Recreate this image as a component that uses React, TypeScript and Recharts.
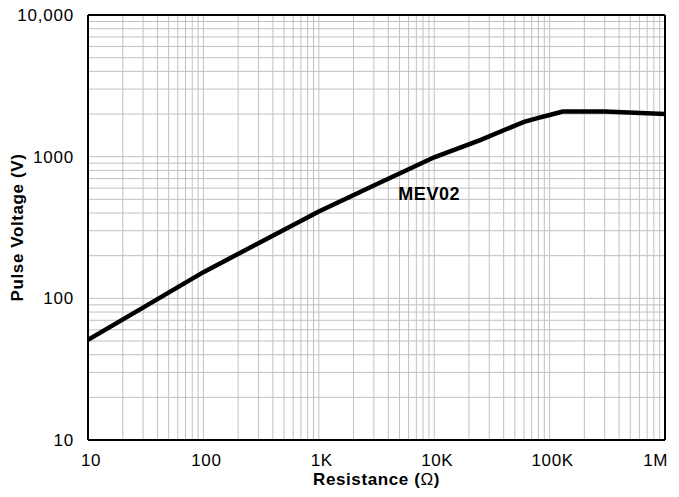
import React from 'react';
import {
  LineChart,
  Line,
  XAxis,
  YAxis,
  CartesianGrid,
  ReferenceLine,
  Label,
} from 'recharts';

// values (log-log)
const resistance = [10, 30, 100, 300, 1000, 3000, 10000, 25000, 60000, 80000, 100000, 130000, 300000, 1000000];
const pulseVoltage = [51, 86, 153, 245, 410, 625, 990, 1310, 1760, 1880, 1970, 2080, 2080, 2000];

const xTicks: number[] = [];
[10, 100, 1000, 10000, 100000].forEach((d) => {
  for (let m = 1; m < 10; m++) xTicks.push(d * m);
});
xTicks.push(1000000);

const yTicks: number[] = [];
[10, 100, 1000].forEach((d) => {
  for (let m = 1; m < 10; m++) yTicks.push(d * m);
});
yTicks.push(10000);

const xLabels: Record<number, string> = {
  10: '10',
  100: '100',
  1000: '1K',
  10000: '10K',
  100000: '100K',
  1000000: '1M',
};
const yLabels: Record<number, string> = {
  10: '10',
  100: '100',
  1000: '1000',
  10000: '10,000',
};

const data = resistance.map((r, i) => ({ r, v: pulseVoltage[i] }));

const font = '"Liberation Sans", Arial, Helvetica, sans-serif';

const XTick = ({ x, y, payload }: any) => {
  const txt = xLabels[payload.value];
  if (!txt) return null;
  const last = payload.value === 1000000;
  return (
    <text
      x={last ? x + 3 : x + 3}
      y={y + 6}
      dy="0.71em"
      textAnchor={last ? 'end' : 'middle'}
      fill="#000"
      fontSize={17}
      letterSpacing={0.6}
    >
      {txt}
    </text>
  );
};

const XTitle = ({ viewBox }: any) => {
  const cx = viewBox.x + viewBox.width / 2;
  return (
    <text x={cx} y={485} textAnchor="middle" fill="#000" fontSize={17} letterSpacing={0.6}>
      <tspan fontWeight="bold">Resistance (</tspan>
      <tspan>Ω</tspan>
      <tspan fontWeight="bold">)</tspan>
    </text>
  );
};

const YTitle = ({ viewBox }: any) => {
  const cy = viewBox.y + viewBox.height / 2;
  return (
    <text
      x={23}
      y={cy}
      transform={`rotate(-90, 23, ${cy})`}
      textAnchor="middle"
      fill="#000"
      fontSize={17}
      fontWeight="bold"
      letterSpacing={0.6}
    >
      Pulse Voltage (V)
    </text>
  );
};

const App: React.FC = () => {
  return (
    <div style={{ position: 'absolute', left: 0, top: 0, background: '#fff' }}>
      <LineChart
        width={679}
        height={497}
        data={data}
        margin={{ top: 15, right: 14, left: 0, bottom: 0 }}
        style={{ fontFamily: font }}
      >
        <CartesianGrid stroke="#c0c0c0" strokeWidth={1} />
        <XAxis
          dataKey="r"
          type="number"
          scale="log"
          domain={[10, 1000000]}
          ticks={xTicks}
          interval={0}
          allowDataOverflow
          height={57}
          tickLine={false}
          axisLine={{ stroke: '#000', strokeWidth: 2 }}
          tick={<XTick />}
        >
          <Label content={<XTitle />} />
        </XAxis>
        <YAxis
          dataKey="v"
          type="number"
          scale="log"
          domain={[10, 10000]}
          ticks={yTicks}
          interval={0}
          allowDataOverflow
          width={88}
          tickLine={false}
          axisLine={{ stroke: '#000', strokeWidth: 2 }}
          tickFormatter={(t: number) => yLabels[t] ?? ''}
          tick={{ fill: '#000', fontSize: 17, letterSpacing: 0.8 }}
          tickMargin={8}
        >
          <Label content={<YTitle />} />
        </YAxis>
        <ReferenceLine x={1000000} stroke="#000" strokeWidth={2} />
        <ReferenceLine y={10000} stroke="#000" strokeWidth={2} />
        <Line
          dataKey="v"
          type="linear"
          stroke="#000"
          strokeWidth={4.5}
          dot={false}
          isAnimationActive={false}
        />
        <ReferenceLine
          x={10000}
          stroke="none"
          label={{
            value: 'MEV02',
            position: 'insideTopLeft',
            offset: 0,
            fill: '#000',
            fontSize: 18,
            fontWeight: 'bold',
            letterSpacing: 0.6,
            dx: -36,
            dy: 172,
          }}
        />
      </LineChart>
    </div>
  );
};

export default App;
